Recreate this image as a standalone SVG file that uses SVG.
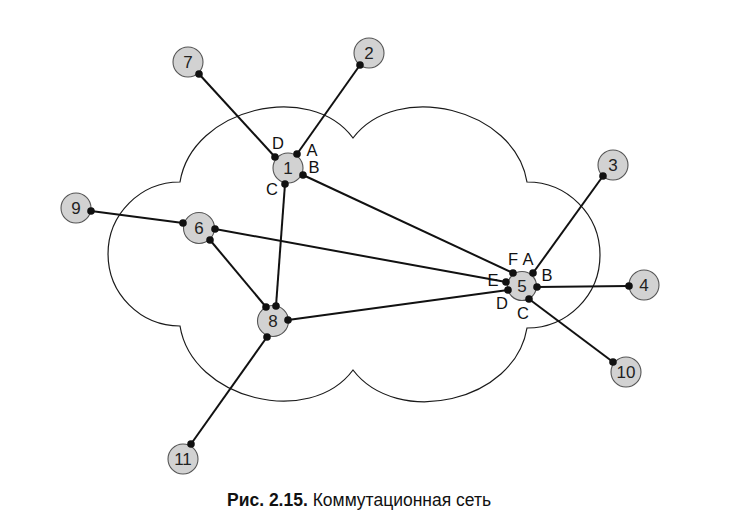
<svg xmlns="http://www.w3.org/2000/svg" width="743" height="532" viewBox="0 0 743 532">
<style>
.cloud{fill:none;stroke:#1a1a1a;stroke-width:1.2}
.link{stroke:#111;stroke-width:2;fill:none}
.node{fill:#d2d2d2;stroke:#555;stroke-width:1.1}
.dot{fill:#111}
.num{font-family:"Liberation Sans",Arial,sans-serif;font-size:17px;fill:#222;text-anchor:middle;dominant-baseline:central}
.port{font-family:"Liberation Sans",Arial,sans-serif;font-size:16.5px;fill:#111;text-anchor:middle;dominant-baseline:central}
.cap{font-family:"Liberation Sans",Arial,sans-serif;font-size:17.5px;fill:#111}
</style>
<rect width="743" height="532" fill="#fff"/>
<path class="cloud" d="M180,182 C192,108 310,80 353,138 C397,80 515,108 527,182 A73,73 0 0 1 527,328 C515,402 397,428 353,370 C310,428 192,400 180,326 A72,72 0 0 1 180,182 Z"/>
<g id="connectors">
<line class="link" x1="199" y1="74" x2="275" y2="157"/>
<line class="link" x1="360" y1="65" x2="297" y2="154"/>
<line class="link" x1="303" y1="175" x2="513" y2="273"/>
<line class="link" x1="285" y1="184" x2="276" y2="306"/>
<line class="link" x1="91" y1="211" x2="183" y2="223"/>
<line class="link" x1="215" y1="229" x2="506" y2="282"/>
<line class="link" x1="210" y1="240" x2="266" y2="307"/>
<line class="link" x1="288" y1="320" x2="508" y2="290"/>
<line class="link" x1="267" y1="337" x2="191" y2="444"/>
<line class="link" x1="533" y1="273" x2="603" y2="176"/>
<line class="link" x1="537" y1="287" x2="629" y2="286"/>
<line class="link" x1="529" y1="299" x2="613" y2="362"/>
</g>
<g id="node7"><circle class="node" cx="188" cy="62" r="15"/><text class="num" x="188" y="62">7</text><circle class="dot" cx="199" cy="74" r="3.8"/></g>
<g id="node2"><circle class="node" cx="369" cy="53" r="15"/><text class="num" x="369" y="53">2</text><circle class="dot" cx="360" cy="65" r="3.8"/></g>
<g id="node3"><circle class="node" cx="613" cy="165" r="15"/><text class="num" x="613" y="165">3</text><circle class="dot" cx="603" cy="176" r="3.8"/></g>
<g id="node4"><circle class="node" cx="644" cy="285" r="15"/><text class="num" x="644" y="285">4</text><circle class="dot" cx="629" cy="286" r="3.8"/></g>
<g id="node10"><circle class="node" cx="626" cy="372" r="15"/><text class="num" x="626" y="372">10</text><circle class="dot" cx="613" cy="362" r="3.8"/></g>
<g id="node9"><circle class="node" cx="76" cy="208" r="15"/><text class="num" x="76" y="208">9</text><circle class="dot" cx="91" cy="211" r="3.8"/></g>
<g id="node11"><circle class="node" cx="183" cy="459" r="15"/><text class="num" x="183" y="459">11</text><circle class="dot" cx="191" cy="444" r="3.8"/></g>
<g id="node1"><circle class="node" cx="288" cy="168" r="15"/><text class="num" x="288" y="168">1</text>
<circle class="dot" cx="297" cy="154" r="3.8"/><circle class="dot" cx="275" cy="157" r="3.8"/><circle class="dot" cx="303" cy="175" r="3.8"/><circle class="dot" cx="285" cy="184" r="3.8"/>
<text class="port" x="278" y="143">D</text><text class="port" x="312" y="150">A</text><text class="port" x="314" y="167">B</text><text class="port" x="272" y="189">C</text></g>
<g id="node6"><circle class="node" cx="199" cy="228" r="15.5"/><text class="num" x="199" y="228">6</text>
<circle class="dot" cx="183" cy="223" r="3.8"/><circle class="dot" cx="215" cy="229" r="3.8"/><circle class="dot" cx="210" cy="240" r="3.8"/></g>
<g id="node8"><circle class="node" cx="273" cy="321" r="15.5"/><text class="num" x="273" y="321">8</text>
<circle class="dot" cx="266" cy="307" r="3.8"/><circle class="dot" cx="276" cy="306" r="3.8"/><circle class="dot" cx="288" cy="320" r="3.8"/><circle class="dot" cx="267" cy="337" r="3.8"/></g>
<g id="node5"><circle class="node" cx="522" cy="286" r="14.5"/><text class="num" x="522" y="286">5</text>
<circle class="dot" cx="513" cy="273" r="3.8"/><circle class="dot" cx="533" cy="273" r="3.8"/><circle class="dot" cx="506" cy="282" r="3.8"/><circle class="dot" cx="508" cy="290" r="3.8"/><circle class="dot" cx="537" cy="287" r="3.8"/><circle class="dot" cx="529" cy="299" r="3.8"/>
<text class="port" x="513" y="259">F</text><text class="port" x="528" y="259">A</text><text class="port" x="493" y="280">E</text><text class="port" x="547" y="275">B</text><text class="port" x="502" y="303">D</text><text class="port" x="523" y="313">C</text></g>
<text class="cap" x="227" y="506"><tspan font-weight="bold">Рис. 2.15.</tspan> Коммутационная сеть</text>
</svg>
